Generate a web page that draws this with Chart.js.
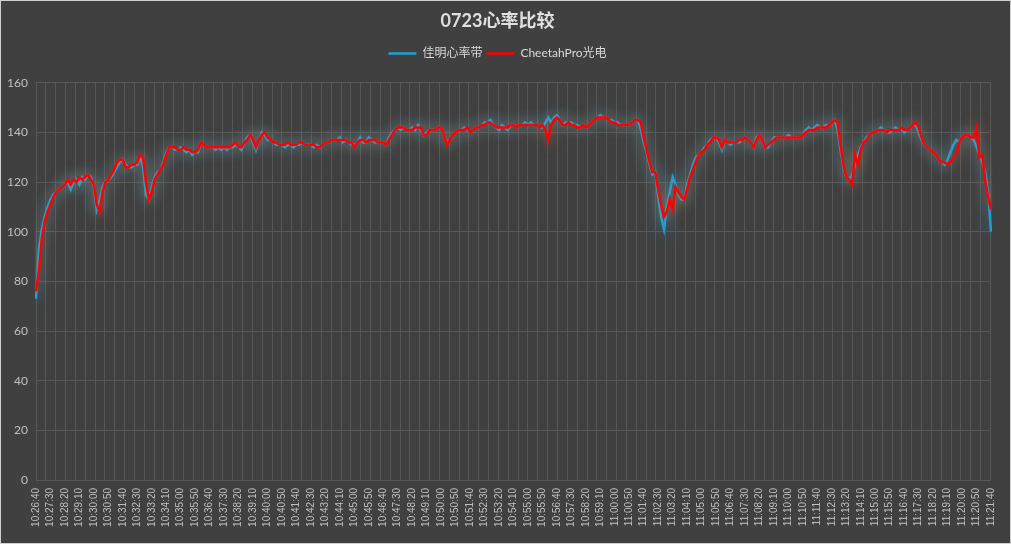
<!DOCTYPE html>
<html>
<head>
<meta charset="utf-8">
<script src="https://cdn.jsdelivr.net/npm/chart.js@4.4.0/dist/chart.umd.min.js"></script>
<style>
  html, body { margin: 0; padding: 0; background: #404040; }
  #wrap { width: 1011px; height: 544px; }
</style>
</head>
<body>
<div id="wrap"><canvas id="myChart" width="1011" height="544"></canvas></div>
<script>
// heart rate, one reading every 10 s from 10:26:40 to 11:21:40
const startTime = "10:26:40";
const stepSeconds = 10;

const garmin = [
  73, 93, 101, 106, 110, 113, 115, 116, 117, 118,
  119, 120, 117, 120, 121, 119, 122, 121, 123, 122,
  118, 109, 113, 118, 120, 121, 122, 124, 126, 128,
  129, 127, 126, 126, 127, 127, 130, 126, 115, 113,
  118, 122, 124, 125, 128, 132, 134, 134, 133, 133,
  134, 133, 132, 133, 131, 132, 132, 136, 135, 134,
  134, 134, 133, 134, 133, 134, 133, 134, 134, 135,
  134, 133, 136, 138, 139, 136, 133, 137, 140, 139,
  137, 137, 136, 135, 135, 135, 134, 135, 135, 134,
  135, 135, 136, 135, 135, 135, 134, 135, 134, 135,
  136, 136, 137, 137, 137, 138, 136, 137, 136, 135,
  135, 136, 138, 136, 136, 138, 137, 136, 136, 136,
  136, 135, 138, 140, 141, 142, 141, 142, 141, 141,
  142, 141, 143, 141, 139, 140, 141, 141, 141, 142,
  142, 139, 136, 137, 139, 140, 141, 141, 142, 141,
  140, 141, 142, 142, 143, 144, 144, 145, 143, 142,
  141, 143, 142, 141, 143, 143, 142, 143, 143, 144,
  143, 144, 143, 143, 142, 142, 144, 146, 144, 146,
  147, 145, 143, 144, 144, 144, 143, 143, 142, 143,
  142, 143, 144, 145, 146, 147, 146, 146, 145, 145,
  144, 144, 143, 143, 143, 143, 144, 145, 145, 141,
  136, 132, 127, 123, 124, 114, 106, 101, 110, 116,
  122, 119, 115, 113, 113, 119, 123, 127, 130, 131,
  132, 134, 135, 137, 138, 138, 136, 133, 137, 136,
  135, 136, 136, 136, 137, 138, 137, 136, 134, 138,
  139, 137, 134, 134, 136, 138, 138, 138, 138, 138,
  139, 138, 138, 138, 138, 139, 141, 142, 141, 142,
  143, 142, 142, 143, 143, 144, 145, 141, 133, 126,
  122, 121, 123, 127, 131, 134, 136, 138, 139, 140,
  140, 141, 142, 141, 140, 140, 141, 142, 141, 142,
  140, 141, 142, 143, 143, 140, 137, 135, 134, 133,
  132, 131, 129, 128, 127, 129, 132, 135, 137, 136,
  138, 139, 139, 138, 137, 134, 131, 128, 124, 116,
  100
];

const cheetah = [
  76, 84, 97, 104, 108, 111, 114, 116, 117, 118,
  119, 121, 119, 121, 120, 122, 121, 122, 123, 121,
  119, 111, 108, 116, 120, 121, 123, 125, 128, 129,
  129, 126, 126, 127, 127, 128, 131, 130, 120, 113,
  116, 121, 123, 125, 127, 131, 134, 134, 134, 133,
  133, 134, 133, 133, 132, 132, 133, 136, 135, 134,
  134, 134, 134, 134, 134, 134, 134, 134, 135, 136,
  134, 134, 136, 137, 139, 137, 134, 137, 139, 140,
  138, 137, 136, 136, 135, 135, 135, 136, 135, 135,
  135, 136, 136, 135, 135, 135, 135, 134, 134, 135,
  136, 136, 137, 137, 137, 137, 137, 137, 136, 136,
  134, 136, 137, 137, 136, 137, 137, 137, 136, 136,
  136, 135, 137, 139, 141, 142, 142, 142, 141, 141,
  141, 142, 142, 142, 139, 139, 141, 141, 141, 142,
  142, 139, 135, 137, 139, 140, 141, 141, 141, 142,
  140, 141, 142, 142, 143, 143, 144, 144, 143, 142,
  142, 142, 142, 142, 143, 143, 142, 143, 143, 143,
  143, 143, 143, 143, 142, 143, 141, 137, 143, 145,
  146, 145, 143, 143, 144, 143, 143, 142, 142, 143,
  142, 143, 144, 145, 146, 146, 146, 146, 145, 144,
  144, 143, 143, 143, 143, 143, 144, 145, 145, 144,
  138, 133, 128, 124, 124, 117, 111, 106, 108, 113,
  109, 118, 116, 114, 113, 117, 122, 125, 128, 131,
  132, 133, 135, 136, 138, 138, 137, 134, 137, 136,
  136, 136, 136, 137, 137, 138, 137, 136, 134, 137,
  139, 137, 134, 135, 136, 137, 138, 138, 138, 138,
  138, 138, 138, 138, 138, 139, 140, 141, 141, 141,
  142, 142, 142, 142, 143, 144, 145, 144, 135, 127,
  122, 121, 119, 131, 127, 133, 136, 137, 139, 140,
  140, 141, 141, 141, 140, 141, 141, 141, 141, 142,
  141, 141, 142, 143, 144, 142, 138, 135, 134, 133,
  132, 131, 129, 128, 128, 127, 128, 130, 131, 136,
  138, 139, 139, 138, 138, 142, 130, 131, 121, 114,
  109
];

const seriesNames = ["佳明心率带", "CheetahPro光电"];
const yTicks = [0, 20, 40, 60, 80, 100, 120, 140, 160];
const labelEvery = 5;   // a time label every 50 s
const gridEvery = 3.4;  // vertical grid line every 34 s

// time labels
function makeLabels(start, n, step) {
  const p = start.split(":").map(Number);
  let s = p[0] * 3600 + p[1] * 60 + p[2];
  const out = [];
  for (let i = 0; i < n; i++) {
    const t = s + i * step;
    const h = Math.floor(t / 3600), m = Math.floor(t / 60) % 60, sec = t % 60;
    out.push(h + ":" + String(m).padStart(2, "0") + ":" + String(sec).padStart(2, "0"));
  }
  return out;
}
const times = makeLabels(startTime, garmin.length, stepSeconds);

// excel-like glow under each line + thin outer frame
const glow = {
  id: "glow",
  beforeDatasetDraw(chart, args) {
    const ds = chart.data.datasets[args.index];
    chart.ctx.save();
    chart.ctx.shadowColor = ds.glowColor;
    chart.ctx.shadowBlur = 14;
  },
  afterDatasetDraw(chart) {
    chart.ctx.restore();
  },
  afterDraw(chart) {
    const ctx = chart.ctx;
    ctx.save();
    ctx.strokeStyle = "#d0d0d0";
    ctx.lineWidth = 1;
    ctx.strokeRect(0.5, 0.5, chart.width - 1, chart.height - 1);
    ctx.restore();
  }
};

const gridLines = [];
for (let v = 0; v <= garmin.length - 1; v += gridEvery) gridLines.push(v);

new Chart("myChart", {
  type: "line",
  data: {
    labels: times,
    datasets: [
      {
        label: seriesNames[0],
        data: garmin,
        borderColor: "#1f9fd2",
        backgroundColor: "#1f9fd2",
        glowColor: "rgba(40,160,220,0.9)",
        borderWidth: 2.5,
        pointRadius: 0,
        tension: 0,
        order: 1,
      },
      {
        label: seriesNames[1],
        data: cheetah,
        borderColor: "#ff0000",
        backgroundColor: "#ff0000",
        glowColor: "rgba(210,130,70,0.75)",
        borderWidth: 2.5,
        pointRadius: 0,
        tension: 0,
        order: 0,
      },
    ],
  },
  options: {
    responsive: false,
    animation: false,
    layout: { padding: { left: 0, right: 16, top: 0, bottom: 4 } },
    plugins: {
      tooltip: { enabled: false },
      title: {
        display: true,
        text: "0723心率比较",
        color: "#e0e0e0",
        font: { family: "Lato, 'Noto Sans CJK SC'", size: 18, weight: "bold" },
        padding: { top: 10, bottom: 12 },
      },
      legend: {
        display: true,
        position: "top",
        labels: {
          color: "#d9d9d9",
          font: { family: "Lato, 'Noto Sans CJK SC'", size: 12 },
          usePointStyle: true,
          pointStyle: "line",
          pointStyleWidth: 28,
          padding: 4,
          sort: (a, b) => a.datasetIndex - b.datasetIndex,
        },
      },
      subtitle: {
        display: true,
        text: " ",
        weight: 500,
        font: { size: 11 },
        padding: 0,
      },
    },
    scales: {
      x: {
        type: "category",
        position: "bottom",
        grid: { display: false, drawTicks: false },
        border: { display: false },
        ticks: {
          autoSkip: false,
          maxRotation: 90,
          minRotation: 90,
          padding: 8,
          color: "#c0c0c0",
          font: { family: "'Liberation Sans'", size: 10 },
          callback: function (val, i) {
            return i % labelEvery === 0 ? times[i] : null;
          },
        },
        afterFit(s) { s.height = 60; },
      },
      g: {
        type: "linear",
        position: "bottom",
        min: 0,
        max: garmin.length - 1,
        grid: { color: "#575757", lineWidth: 1, drawTicks: false },
        border: { display: false },
        ticks: { display: false },
        afterBuildTicks(s) { s.ticks = gridLines.map(v => ({ value: v })); },
        afterFit(s) { s.height = 0; },
      },
      y: {
        min: 0,
        max: 160,
        grid: { color: "#595959", drawTicks: false },
        border: { display: false },
        ticks: {
          stepSize: 20,
          padding: 8,
          color: "#c0c0c0",
          font: { family: "Lato, 'Liberation Sans'", size: 12 },
        },
        afterBuildTicks(s) { s.ticks = yTicks.map(v => ({ value: v })); },
        afterFit(s) { s.width = 36; },
      },
    },
  },
  plugins: [glow],
});
</script>
</body>
</html>
